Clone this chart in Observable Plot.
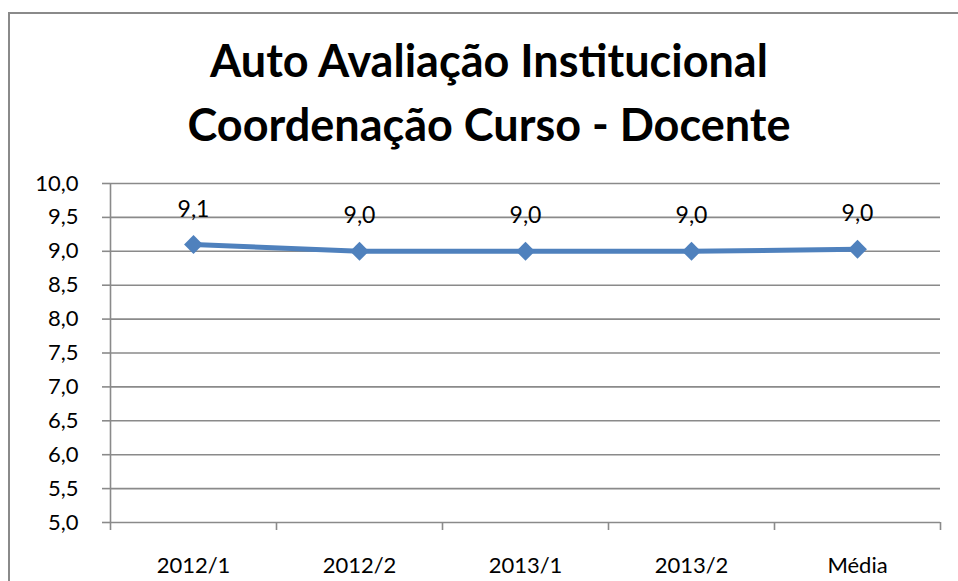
<!DOCTYPE html>
<html>
<head>
<meta charset="utf-8">
<script src="https://cdn.jsdelivr.net/npm/d3@7"></script>
<script src="https://cdn.jsdelivr.net/npm/@observablehq/plot@0.6"></script>
<style>
  html, body { margin: 0; padding: 0; background: #fff; }
  #wrap { position: relative; width: 958px; height: 581px; overflow: hidden; background: #fff; }
  #frame { position: absolute; left: 8px; top: 12px; width: 980px; height: 600px;
           border-left: 2px solid #8a8a8a; border-top: 2px solid #8a8a8a; box-sizing: border-box; }
  #title { position: absolute; left: 20px; top: 28px; width: 938px; text-align: center;
           font-family: Lato, "Open Sans", sans-serif; font-weight: 700; font-size: 45px; color: #000; }
  #title div { line-height: 64px; height: 64px; white-space: nowrap; }
  #chart { position: absolute; left: 0; top: 170px; }
</style>
</head>
<body>
<div id="wrap">
  <div id="frame"></div>
  <div id="title"><div>Auto Avaliação Institucional</div><div>Coordenação Curso - Docente</div></div>
  <div id="chart"></div>
</div>
<script>
const categories = ["2012/1", "2012/2", "2013/1", "2013/2", "Média"];
const values = [9.1, 9.0, 9.0, 9.0, 9.03];
const yTicks = [5.0, 5.5, 6.0, 6.5, 7.0, 7.5, 8.0, 8.5, 9.0, 9.5, 10.0];

const data = categories.map((c, i) => ({ cat: c, pos: i + 0.5, value: values[i] }));
const comma = v => d3.format(".1f")(v).replace(".", ",");
const edges = d3.range(categories.length + 1);
const centers = categories.map((c, i) => i + 0.5);
const gridColor = "#8a8a8a";
const blue = "#4F81BD";

const chart = Plot.plot({
  width: 958,
  height: 411,
  marginLeft: 110,
  marginRight: 18,
  marginTop: 13,
  marginBottom: 59,
  style: { fontFamily: "Lato, 'Open Sans', sans-serif", fontSize: "22px", color: "#000", background: "transparent" },
  x: { type: "linear", domain: [0, categories.length], axis: null },
  y: { domain: [5, 10], axis: null },
  marks: [
    Plot.ruleY(yTicks, { stroke: gridColor, strokeWidth: 1.6 }),
    Plot.axisY({ ticks: yTicks, tickFormat: comma, tickSize: 8, tickPadding: 24, stroke: gridColor, strokeWidth: 1.6, strokeOpacity: 1, fill: "#000", label: null }),
    Plot.ruleX([0], { stroke: gridColor, strokeWidth: 1.6 }),
    Plot.axisX({ ticks: edges, tickFormat: () => "", tickSize: 8, stroke: gridColor, strokeWidth: 1.6, strokeOpacity: 1, label: null }),
    Plot.axisX({ ticks: centers, tickFormat: (d) => categories[Math.round(d - 0.5)], tickSize: 0, tickPadding: 35, fill: "#000", label: null }),
    Plot.line(data, { x: "pos", y: "value", stroke: blue, strokeWidth: 5 }),
    Plot.dot(data, { x: "pos", y: "value", symbol: "diamond2", r: 8.5, fill: blue, stroke: "none" }),
    Plot.text(data, { x: "pos", y: "value", text: d => comma(d.value), dy: -28, lineAnchor: "bottom", fill: "#000", fontSize: 23 })
  ]
});
document.getElementById("chart").appendChild(chart);
</script>
</body>
</html>
